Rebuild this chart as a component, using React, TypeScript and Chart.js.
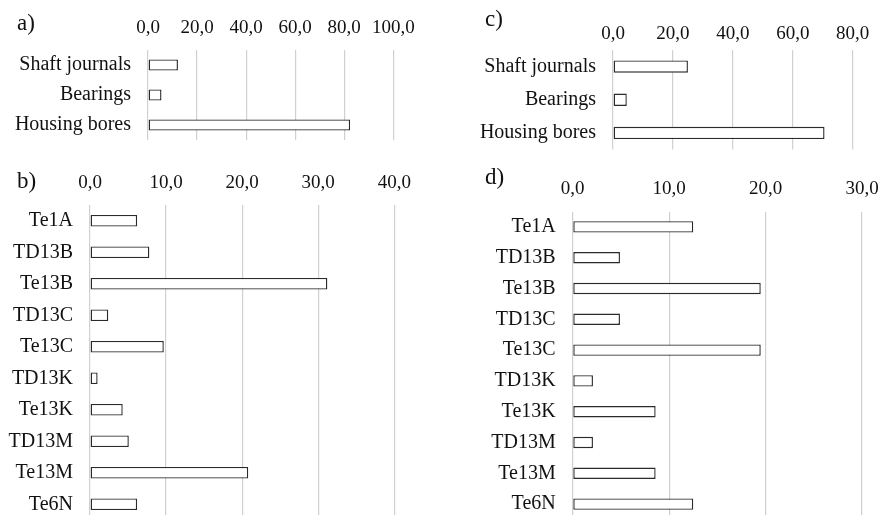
import React, { useEffect, useRef } from "react";
import { Chart, registerables } from "chart.js";

Chart.register(...registerables);

const fontFamily = "'Liberation Serif', 'Times New Roman', serif";

// ---- data ----
const componentLabels = ["Shaft journals", "Bearings", "Housing bores"];
const panelAValues = [12.2, 5.5, 82.4];
const panelCValues = [25.0, 4.6, 70.6];

const toleranceLabels = ["Te1A", "TD13B", "Te13B", "TD13C", "Te13C", "TD13K", "Te13K", "TD13M", "Te13M", "Te6N"];
const panelBValues = [6.2, 7.8, 31.2, 2.4, 9.7, 1.0, 4.3, 5.1, 20.8, 6.2];
const panelDValues = [12.5, 4.9, 19.5, 4.9, 19.5, 2.1, 8.6, 2.1, 8.6, 12.5];

type PanelProps = {
  labels: string[];
  values: number[];
  max: number;
  step: number;
  left: number;
  top: number;
  width: number;
  height: number;
  yAxisWidth: number;
  xAxisHeight: number;
  tickPad: number;
  padRight: number;
  padBottom: number;
};

function Panel(p: PanelProps) {
  const ref = useRef<HTMLCanvasElement | null>(null);
  useEffect(() => {
    if (!ref.current) return;
    const chart = new Chart(ref.current, {
      type: "bar",
      data: {
        labels: p.labels,
        datasets: [
          {
            data: p.values,
            backgroundColor: "#ffffff",
            borderColor: "#2a2a2a",
            borderWidth: 1.4,
            borderSkipped: false,
            categoryPercentage: 1,
            barPercentage: 0.37,
          },
        ],
      },
      options: {
        indexAxis: "y",
        animation: false,
        responsive: false,
        maintainAspectRatio: false,
        layout: { padding: { top: 0, left: 0, right: p.padRight, bottom: p.padBottom } },
        plugins: { legend: { display: false }, tooltip: { enabled: false }, title: { display: false } },
        scales: {
          x: {
            position: "top",
            min: 0,
            max: p.max,
            border: { display: false },
            grid: { color: "#d0d0d0", lineWidth: 1.2, drawTicks: false },
            ticks: {
              stepSize: p.step,
              padding: p.tickPad,
              color: "#111111",
              font: { family: fontFamily, size: 19 },
              callback: (v: any) => Number(v).toFixed(1).replace(".", ","),
            },
            afterFit: (s: any) => {
              s.height = p.xAxisHeight;
              s.paddingLeft = 0;
              s.paddingRight = 0;
            },
          },
          y: {
            border: { display: false },
            grid: { display: false, drawTicks: false },
            ticks: {
              padding: 17,
              color: "#111111",
              font: { family: fontFamily, size: 20 },
            },
            afterFit: (s: any) => {
              s.width = p.yAxisWidth;
              s.paddingTop = 0;
              s.paddingBottom = 0;
            },
          },
        },
      },
    });
    return () => chart.destroy();
  }, []);
  return (
    <canvas
      ref={ref}
      width={p.width}
      height={p.height}
      style={{ position: "absolute", left: p.left, top: p.top, width: p.width, height: p.height }}
    />
  );
}

const labelStyle = (left: number, top: number): React.CSSProperties => ({
  position: "absolute",
  left,
  top,
  fontFamily,
  fontSize: 23,
  lineHeight: "23px",
  color: "#111111",
});

export default function App() {
  return (
    <div
      style={{
        position: "fixed",
        left: 0,
        top: 0,
        width: 880,
        height: 515,
        overflow: "hidden",
        background: "#ffffff",
      }}
    >
      <Panel
        labels={componentLabels}
        values={panelAValues}
        max={100}
        step={20}
        left={0}
        top={0}
        width={440}
        height={160}
        yAxisWidth={148}
        xAxisHeight={50}
        tickPad={10.8}
        padRight={46.7}
        padBottom={20}
      />
      <Panel
        labels={componentLabels}
        values={panelCValues}
        max={80}
        step={20}
        left={440}
        top={0}
        width={440}
        height={160}
        yAxisWidth={173}
        xAxisHeight={50}
        tickPad={5}
        padRight={27.3}
        padBottom={10.5}
      />
      <Panel
        labels={toleranceLabels}
        values={panelBValues}
        max={40}
        step={10}
        left={0}
        top={160}
        width={440}
        height={360}
        yAxisWidth={90}
        xAxisHeight={45}
        tickPad={10.6}
        padRight={45.7}
        padBottom={0}
      />
      <Panel
        labels={toleranceLabels}
        values={panelDValues}
        max={30}
        step={10}
        left={440}
        top={160}
        width={440}
        height={360}
        yAxisWidth={132.7}
        xAxisHeight={51.5}
        tickPad={11}
        padRight={18}
        padBottom={0.5}
      />
      <div style={labelStyle(17, 11)}>a)</div>
      <div style={labelStyle(485, 7)}>c)</div>
      <div style={labelStyle(17, 169)}>b)</div>
      <div style={labelStyle(485, 165)}>d)</div>
    </div>
  );
}
